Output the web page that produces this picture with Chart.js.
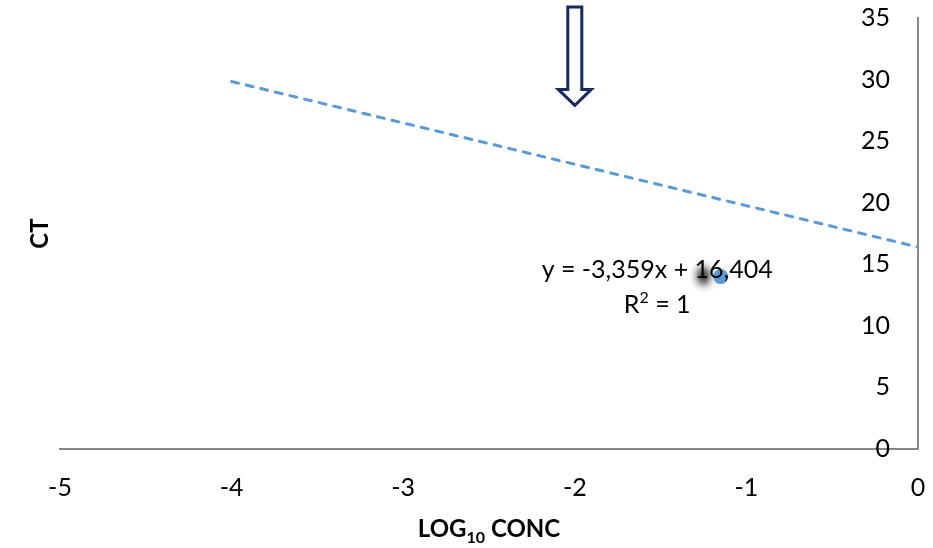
<!DOCTYPE html>
<html><head><meta charset="utf-8">
<script src="https://cdn.jsdelivr.net/npm/chart.js@4"></script>
<style>html,body{margin:0;padding:0;background:#fff}#wrap{width:933px;height:548px}</style>
</head><body><div id="wrap"><canvas id="c" width="933" height="548"></canvas></div>
<script>
const xTicks = [-5, -4, -3, -2, -1, 0];
const yTicks = [0, 5, 10, 15, 20, 25, 30, 35];
const pointX = [-1.15];
const pointY = [14.0];
const trendX = [-4, 0];
const trendY = [29.84, 16.40];
const eqLine1 = 'y = -3,359x + 16,404';
const eqLine2 = ['R', '2', ' = 1'];
const eqAnchor = { x: -1.52, y1: 14.55, y2: 11.7 };
const arrowAt = { x: -2, top: 35.9, neck: 29.2, tip: 27.9 };
const smudgeAt = { x: -1.25, y: 14.05 };
const xTitleParts = ['LOG', '10', ' CONC'];
const yTitle = 'CT';

const FONT = 'Lato, "Open Sans", sans-serif';
const blue = '#5B9BD5';
const axisGray = '#868686';

function drawRuns(ctx, parts, fonts, offsets, cx, y) {
  const ws = parts.map((p, i) => { ctx.font = fonts[i]; return ctx.measureText(p).width; });
  let tx = cx - ws.reduce((a, b) => a + b, 0) / 2;
  ctx.textAlign = 'left';
  parts.forEach((p, i) => { ctx.font = fonts[i]; ctx.fillText(p, tx, y + offsets[i]); tx += ws[i]; });
}

const overlay = {
  id: 'overlay',
  beforeDatasetsDraw(chart) {
    const ctx = chart.ctx, xs = chart.scales.x, ys = chart.scales.y;
    ctx.save();
    ctx.filter = 'blur(4px)';
    ctx.fillStyle = 'rgba(0,0,0,0.95)';
    ctx.beginPath();
    ctx.ellipse(xs.getPixelForValue(smudgeAt.x), ys.getPixelForValue(smudgeAt.y), 6, 9, 0, 0, Math.PI * 2);
    ctx.fill();
    ctx.restore();
  },
  afterDatasetsDraw(chart) {
    const ctx = chart.ctx, xs = chart.scales.x, ys = chart.scales.y, ca = chart.chartArea;
    ctx.save();
    ctx.fillStyle = '#000';
    ctx.font = '25px ' + FONT;
    ctx.textAlign = 'center';
    ctx.textBaseline = 'middle';
    const ex = xs.getPixelForValue(eqAnchor.x);
    ctx.fillText(eqLine1, ex, ys.getPixelForValue(eqAnchor.y1));
    drawRuns(ctx, eqLine2, ['25px ' + FONT, '16px ' + FONT, '25px ' + FONT], [0, -7, 0], ex, ys.getPixelForValue(eqAnchor.y2));

    const cx = xs.getPixelForValue(arrowAt.x);
    const top = ys.getPixelForValue(arrowAt.top);
    const neck = ys.getPixelForValue(arrowAt.neck);
    const tip = ys.getPixelForValue(arrowAt.tip);
    const sw = 7, hw = 16.5;
    ctx.strokeStyle = '#172B60';
    ctx.lineWidth = 3;
    ctx.lineJoin = 'miter';
    ctx.fillStyle = '#fff';
    ctx.beginPath();
    ctx.moveTo(cx - sw, top);
    ctx.lineTo(cx + sw, top);
    ctx.lineTo(cx + sw, neck);
    ctx.lineTo(cx + hw, neck);
    ctx.lineTo(cx, tip);
    ctx.lineTo(cx - hw, neck);
    ctx.lineTo(cx - sw, neck);
    ctx.closePath();
    ctx.fill();
    ctx.stroke();

    ctx.fillStyle = '#000';
    ctx.font = 'bold 24px ' + FONT;
    ctx.save();
    ctx.translate(40, (ca.top + ca.bottom) / 2);
    ctx.rotate(-Math.PI / 2);
    ctx.textAlign = 'center';
    ctx.textBaseline = 'middle';
    ctx.fillText(yTitle, 0, 0);
    ctx.restore();

    ctx.textBaseline = 'alphabetic';
    drawRuns(ctx, xTitleParts, ['bold 24px ' + FONT, 'bold 16px ' + FONT, 'bold 24px ' + FONT], [0, 6, 0], (ca.left + ca.right) / 2, 537);
    ctx.restore();
  }
};

new Chart(document.getElementById('c'), {
  data: {
    datasets: [
      {
        type: 'line',
        data: trendX.map((v, i) => ({ x: v, y: trendY[i] })),
        borderColor: blue,
        borderWidth: 3,
        borderDash: [7, 8],
        borderCapStyle: 'round',
        pointRadius: 0,
        fill: false,
        tension: 0
      },
      {
        type: 'scatter',
        data: pointX.map((v, i) => ({ x: v, y: pointY[i] })),
        backgroundColor: blue,
        borderColor: blue,
        pointRadius: 7.5,
        borderWidth: 0
      }
    ]
  },
  options: {
    responsive: false,
    animation: false,
    devicePixelRatio: 1,
    layout: { padding: { left: 60, top: 18, right: 0, bottom: 0 } },
    plugins: { legend: { display: false }, tooltip: { enabled: false } },
    scales: {
      x: {
        type: 'linear',
        position: 'bottom',
        min: xTicks[0],
        max: xTicks[xTicks.length - 1],
        afterBuildTicks: s => { s.ticks = xTicks.map(v => ({ value: v })); },
        ticks: {
          callback: v => String(v),
          color: '#000',
          font: { family: FONT, size: 25 },
          padding: 0,
          maxRotation: 0,
          autoSkip: false
        },
        grid: { display: false, drawTicks: true, tickLength: 24 },
        border: { display: true, color: axisGray, width: 2 },
        afterFit: s => { s.height = 99; }
      },
      y: {
        type: 'linear',
        position: 'right',
        min: yTicks[0],
        max: yTicks[yTicks.length - 1],
        afterBuildTicks: s => { s.ticks = yTicks.map(v => ({ value: v })); },
        ticks: {
          callback: v => String(v),
          color: '#000',
          font: { family: FONT, size: 25 },
          mirror: true,
          padding: -28,
          autoSkip: false
        },
        grid: { display: false, drawTicks: false },
        border: { display: true, color: axisGray, width: 2 },
        afterFit: s => { s.width = 15; }
      }
    }
  },
  plugins: [overlay]
});
</script>
</body></html>
